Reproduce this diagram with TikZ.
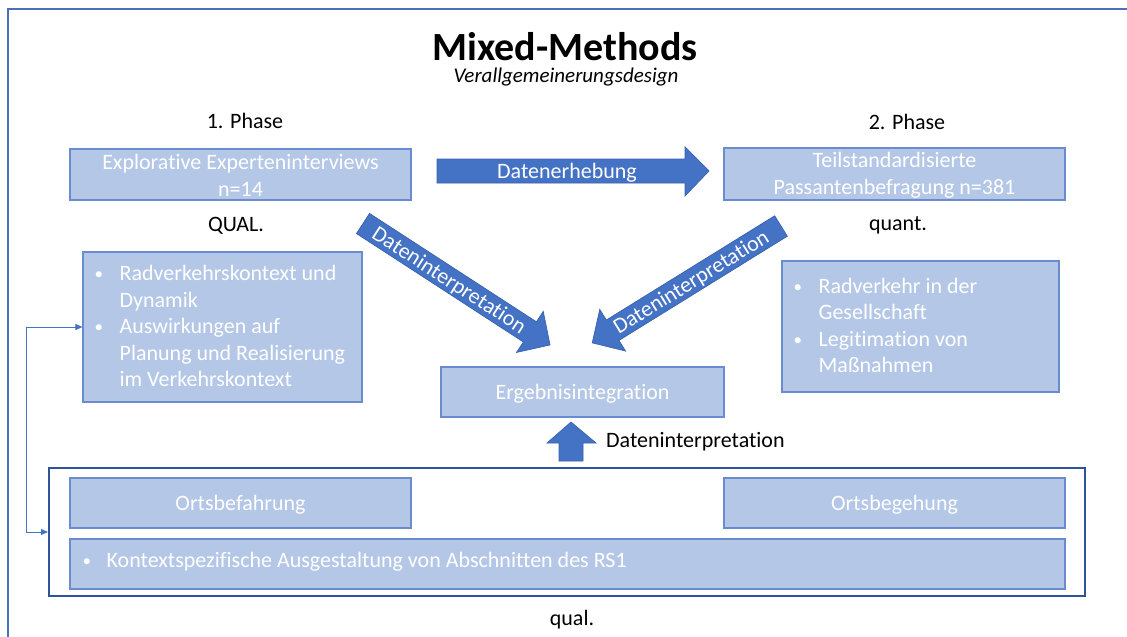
\documentclass[tikz,border=0pt]{standalone}
\usepackage{fontspec}
\setmainfont{Carlito}[Ligatures=NoCommon]
\usetikzlibrary{arrows.meta}
\definecolor{boxfill}{HTML}{B4C7E7}
\definecolor{boxline}{HTML}{6A8BCE}
\definecolor{arrfill}{HTML}{4472C4}
\definecolor{arrline}{HTML}{3A62B0}
\definecolor{darkline}{HTML}{2F5597}
\definecolor{frameline}{HTML}{4A70B8}
\newcommand\myBul{\makebox[25pt][l]{\raisebox{1pt}{\fontsize{17}{17}\selectfont •}}}
\newcommand\myInd{\hspace*{25pt}}
\begin{document}
\begin{tikzpicture}[x=1pt,y=-1pt,
  every node/.style={font=\fontsize{22}{26.5}\selectfont, inner sep=0pt},
  bluebox/.style={draw=boxline, line width=1.1pt, fill=boxfill, text=white, align=center},
  listbox/.style={draw=boxline, line width=1.1pt, fill=boxfill},
  listtext/.style={text=white, align=left, anchor=west},
  blockarr/.style={fill=arrfill, draw=arrline, line width=0.7pt},
  arrtext/.style={text=white},
  lbl/.style={text=black},
  conn/.style={draw=arrfill, line width=1pt, {Triangle[length=7pt,width=6pt]}-{Triangle[length=7pt,width=6pt]}}
]
\useasboundingbox (0,0) rectangle (1127,637);
\fill[white] (0,0) rectangle (1127,637);
% outer frame (runs off the right and bottom edges)
\draw[frameline, line width=1.6pt] (8,660) -- (8,9) -- (1160,9);

% title
\node[font=\fontsize{40}{44}\selectfont\bfseries] (title) at (565,47) {Mixed-Methods};
\node[font=\fontsize{21}{25}\selectfont\itshape] (subtitle) at (566,77.5) {Verallgemeinerungsdesign};

% phase labels
\node[lbl] (phase1) at (245,121) {1. Phase};
\node[lbl] (phase2) at (907,122) {2. Phase};
\node[lbl] (qual) at (236,226) {QUAL.};
\node[lbl] (quant) at (898,225) {quant.};

% top boxes
\node[bluebox, minimum width=341pt, minimum height=51pt] (expl) at (240.5,174.5) {};
\node[arrtext, align=center] (expltext) at (240.5,175.5) {Explorative Experteninterviews\\n=14};
\node[bluebox, minimum width=341pt, minimum height=52pt] (teil) at (894.5,174) {};
\node[arrtext, align=center] (teiltext) at (894.5,175.5) {Teilstandardisierte\\Passantenbefragung n=381};

% horizontal block arrow
\path[blockarr] (437,159) -- (685,159) -- (685,147) -- (709,171) -- (685,196) -- (685,183) -- (437,183) -- cycle;
\node[arrtext] (erhebung) at (567,173) {Datenerhebung};

% left diagonal block arrow
\begin{scope}[shift={(363,223.5)}, rotate=-33]
  \path[blockarr] (0,-12) -- (199,-12) -- (199,-24.5) -- (223,0) -- (199,24.5) -- (199,12) -- (0,12) -- cycle;
  \node[arrtext, rotate=-33] (interpL) at (103,1.5) {Dateninterpretation};
\end{scope}

% right diagonal block arrow
\begin{scope}[shift={(781,226)}, rotate=211.76]
  \path[blockarr] (0,-12) -- (198,-12) -- (198,-24.5) -- (222,0) -- (198,24.5) -- (198,12) -- (0,12) -- cycle;
  \node[arrtext, rotate=31.76] (interpR) at (106,-1.5) {Dateninterpretation};
\end{scope}

% bullet boxes
\node[listbox, minimum width=279pt, minimum height=150pt] (lbox) at (222.5,327) {};
\node[listtext] (ltext) at ([xshift=12pt,yshift=1pt]lbox.west)
  {\myBul Radverkehrskontext und\\\myInd Dynamik\\\myBul Auswirkungen auf\\\myInd Planung und Realisierung\\\myInd im Verkehrskontext};
\node[listbox, minimum width=277pt, minimum height=131pt] (rbox) at (920.5,326.5) {};
\node[listtext] (rtext) at ([xshift=12pt,yshift=1pt]rbox.west)
  {\myBul Radverkehr in der\\\myInd Gesellschaft\\\myBul Legitimation von\\\myInd Maßnahmen};

% result
\node[bluebox, minimum width=283pt, minimum height=50pt] (ergeb) at (582.5,392) {};
\node[arrtext] (ergebtext) at (582.5,394) {Ergebnisintegration};

% up arrow
\path[blockarr] (559,461) -- (559,443) -- (547,443) -- (571,422) -- (596,443) -- (583,443) -- (583,461) -- cycle;
\node[lbl, anchor=west] (interpU) at (606,442) {Dateninterpretation};

% bottom group
\node[draw=darkline, line width=2pt, fill=white, minimum width=1036pt, minimum height=128pt] (outerbox) at (567,532) {};
\node[bluebox, minimum width=341pt, minimum height=50pt] (befahrung) at (240.5,503) {};
\node[arrtext] at (240.5,505) {Ortsbefahrung};
\node[bluebox, minimum width=341pt, minimum height=50pt] (begehung) at (894.5,503) {};
\node[arrtext] at (894.5,505) {Ortsbegehung};
\node[listbox, minimum width=995pt, minimum height=50pt] (kontext) at (567.5,564) {};
\node[listtext] (ktext) at ([xshift=13pt,yshift=2pt]kontext.west)
  {\makebox[24pt][l]{\raisebox{1pt}{\fontsize{17}{17}\selectfont •}}Kontextspezifische Ausgestaltung von Abschnitten des RS1};
\node[lbl] (qualbot) at (572,620) {qual.};

% elbow connector
\draw[conn] (outerbox.west) -- ++(-22,0) |- (lbox.west);
\end{tikzpicture}
\end{document}
